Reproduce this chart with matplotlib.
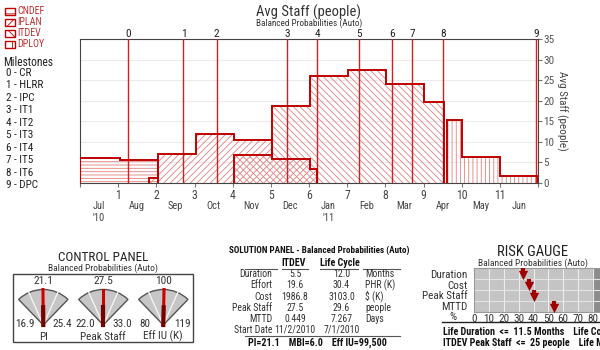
import matplotlib.pyplot as plt
from matplotlib import font_manager
from matplotlib.patches import Rectangle, Wedge
import numpy as np

# the reference uses a narrow sans; use one if installed, else shrink text
installed = {f.name for f in font_manager.fontManager.ttflist}
SCALE = 0.8
FONT = 'Liberation Sans'
for cand in ['Liberation Sans Narrow', 'Roboto Condensed', 'Open Sans Condensed']:
    if cand in installed:
        FONT, SCALE = cand, 1.0
        break
plt.rcParams['font.family'] = [FONT, 'DejaVu Sans']
plt.rcParams['hatch.linewidth'] = 0.6


def fs(size):
    return size * SCALE


# -------------------------------------------------------
# Staffing data (month edges, avg staff per step)
# -------------------------------------------------------
cndef_edges = [0, 1.05, 2.05]
cndef_staff = [6.0, 5.5]
iplan_edges = [1.8, 2.05, 3.03, 4.03, 5.02, 6.02, 6.21]
iplan_staff = [1.2, 7.0, 12.0, 10.4, 5.9, 3.5]
itdev_edges = [4.03, 5.02, 6.02, 7.01, 8.02, 9.0, 9.55]
itdev_staff = [6.7, 18.6, 25.9, 27.4, 24.1, 19.7]
dploy_edges = [9.61, 10.0, 11.0, 12.0]
dploy_staff = [15.3, 6.4, 1.8]

phase_names = ['CNDEF', 'IPLAN', 'ITDEV', 'DPLOY']

milestone_names = ['CR', 'HLRR', 'IPC', 'IT1', 'IT2', 'IT3', 'IT4', 'IT5', 'IT6', 'DPC']
milestone_months = [1.25, 2.71, 3.58, 5.43, 6.21, 7.32, 8.18, 8.70, 9.52, 11.94]

month_labels = ["Jul\n'10", 'Aug', 'Sep', 'Oct', 'Nov', 'Dec',
                "Jan\n'11", 'Feb', 'Mar', 'Apr', 'May', 'Jun']

# control panel gauges
gauge_names = ['PI', 'Peak Staff', 'Eff IU (K)']
gauge_low = [16.9, 22.0, 80]
gauge_high = [25.4, 33.0, 119]
gauge_value = [21.1, 27.5, 100]
gauge_fmt = ['{:.1f}', '{:.1f}', '{:.0f}']

# solution panel
sol_rows = ['Duration', 'Effort', 'Cost', 'Peak Staff', 'MTTD', 'Start Date']
sol_itdev = ['5.5', '19.6', '1986.8', '27.5', '0.449', '11/2/2010']
sol_life = ['12.0', '30.4', '3103.0', '29.6', '7.267', '7/1/2010']
sol_units = ['Months', 'PHR (K)', '$ (K)', 'people', 'Days', '']

# risk gauge
risk_names = ['Duration', 'Cost', 'Peak Staff', 'MTTD']
risk_pct = [33, 37, 40, 54]

LINE = '#c00000'
HATCH = '#e08080'
TXT = '#333333'

fig = plt.figure(figsize=(6, 3.5), dpi=100)

# -------------------------------------------------------
# Main staffing chart
# -------------------------------------------------------
ax = fig.add_axes([80 / 600, 1 - 183 / 350, 458 / 600, 144 / 350])

phases = [(cndef_edges, cndef_staff, '-----'),
          (iplan_edges, iplan_staff, '/////'),
          (itdev_edges, itdev_staff, '\\\\\\\\\\'),
          (dploy_edges, dploy_staff, '||||')]
legend_hatch = ['---', '///', '\\\\\\', '||']
for edges, staff, hatch in phases:
    ax.stairs(staff, edges, baseline=0, fill=True, facecolor='none',
              edgecolor=HATCH, hatch=hatch, linewidth=0, zorder=2)
for edges, staff, hatch in phases:
    ax.stairs(staff, edges, baseline=0, color=LINE, linewidth=1.4, zorder=4)

for i, m in enumerate(milestone_months):
    ax.axvline(m, color='#d02020', lw=1, zorder=3)
    ax.text(m, 1.0, str(i), transform=ax.get_xaxis_transform(),
            ha='center', va='bottom', fontsize=fs(8.2), color='#222')

ax.set_xlim(0, 12)
ax.set_ylim(0, 35)
ax.yaxis.tick_right()
ax.yaxis.set_label_position('right')
ax.set_yticks(range(0, 36, 5))
ax.set_ylabel('Avg Staff (people)', rotation=270, labelpad=9, fontsize=fs(8), color='#444')
ax.tick_params(axis='y', labelsize=fs(8), labelcolor='#555', length=3, color='#777', pad=1)
ax.grid(axis='y', color='#ececec', lw=0.8)
ax.set_axisbelow(True)

ax.set_xticks(range(13))
ax.set_xticklabels([''] + [str(i) for i in range(1, 12)] + [''])
ax.set_xticks(np.arange(12) + 0.5, minor=True)
ax.set_xticklabels(month_labels, minor=True)
ax.tick_params(axis='x', which='major', labelsize=fs(8.5), labelcolor='#444', length=3,
               color='#777', pad=1)
ax.tick_params(axis='x', which='minor', labelsize=fs(7.5), labelcolor='#444', length=0, pad=13)
for s in ax.spines.values():
    s.set_color('#444')

fig.text(309 / 600, 1 - 12.5 / 350, 'Avg Staff (people)', ha='center', va='center',
         fontsize=fs(10.5), color=TXT)
fig.text(309 / 600, 1 - 23.5 / 350, 'Balanced Probabilities (Auto)', ha='center',
         va='center', fontsize=fs(6.6), color=TXT)

# -------------------------------------------------------
# Overlay in pixel coordinates for the panels
# -------------------------------------------------------
ov = fig.add_axes([0, 0, 1, 1])
ov.set_xlim(0, 600)
ov.set_ylim(350, 0)
ov.axis('off')

# legend
for i, name in enumerate(phase_names):
    ov.add_patch(Rectangle((5, 7.5 + i * 11), 10, 7, facecolor='white',
                           edgecolor=LINE, hatch=legend_hatch[i], lw=1))
    ov.text(17.5, 11 + i * 11, name, fontsize=fs(7.2), color='#c03030', va='center')

# milestones list
ov.text(3, 62.5, 'Milestones', fontsize=fs(8.3), va='center', color='#222')
for i, name in enumerate(milestone_names):
    ov.text(6, 72.7 + i * 12.5, f'{i} - {name}', fontsize=fs(8), va='center', color='#222')

# control panel
ov.text(103, 257.5, 'CONTROL PANEL', ha='center', va='center', fontsize=fs(9.5), color='#222')
ov.text(103, 268.5, 'Balanced Probabilities (Auto)', ha='center', va='center',
        fontsize=fs(6.8), color=TXT)
ov.add_patch(Rectangle((13.3, 274), 180, 67.7, fill=False, edgecolor='#444', lw=1))


def pt(cx, cy, r, ang):
    a = np.radians(ang)
    return cx + r * np.cos(a), cy - r * np.sin(a)


R = 35.5
for k, name in enumerate(gauge_names):
    cx, cy = 43.3 + k * 60, 325
    ov.add_patch(Wedge((cx, cy), R, -134, -46, facecolor='#c6c6c6',
                       edgecolor='#555', lw=1))
    for a in (114, 66):
        x1, y1 = pt(cx, cy, R, a)
        ov.plot([cx, x1], [cy, y1], color='#f4f4f4', lw=1)
    frac = (gauge_value[k] - gauge_low[k]) / (gauge_high[k] - gauge_low[k])
    ang = 135 - 90 * frac
    x1, y1 = pt(cx, cy, R, ang)
    ov.plot([cx, x1], [cy, y1], color='#d00000', lw=2.2)
    x2, y2 = pt(cx, cy, R * 0.5, ang)
    ov.plot([cx, x2], [cy, y2], color='#7a0000', lw=3)
    ov.text(cx, 281, gauge_fmt[k].format(gauge_value[k]), ha='center', va='center',
            fontsize=fs(8.2), color=TXT)
    ov.text(cx - 18, 324, gauge_fmt[k].format(gauge_low[k]), ha='center',
            va='center', fontsize=fs(8), color=TXT)
    ov.text(cx + 19, 324, gauge_fmt[k].format(gauge_high[k]), ha='center',
            va='center', fontsize=fs(8), color=TXT)
    ov.text(cx, 336.5, name, ha='center', va='center', fontsize=fs(8), color=TXT)

# solution panel
ov.text(319, 250.5, 'SOLUTION PANEL - Balanced Probabilities (Auto)', ha='center',
        va='center', fontsize=fs(6.6), fontweight='bold', color='#111')
ov.text(294, 263, 'ITDEV', ha='center', va='center', fontsize=fs(7.2),
        fontweight='bold', color='#111')
ov.text(340, 263, 'Life Cycle', ha='center', va='center', fontsize=fs(7.2),
        fontweight='bold', color='#111')
for x0, x1 in [(245, 276.5), (281.5, 308), (320, 358), (363, 400)]:
    ov.plot([x0, x1], [268.5, 268.5], color='#555', lw=0.8)
for i, row in enumerate(sol_rows):
    y = 274.3 + i * 11.1
    ov.text(272, y, row, ha='right', va='center', fontsize=fs(7), color=TXT)
    ov.text(295, y, sol_itdev[i], ha='center', va='center', fontsize=fs(7), color=TXT)
    ov.text(341.5, y, sol_life[i], ha='center', va='center', fontsize=fs(7), color=TXT)
    ov.text(365, y, sol_units[i], ha='left', va='center', fontsize=fs(7), color=TXT)
ov.plot([245, 400], [336, 336], color='#555', lw=0.8)
ov.text(317.5, 342.5, 'PI=21.1    MBI=6.0    Eff IU=99,500', ha='center',
        va='center', fontsize=fs(7.2), fontweight='bold', color='#111')

# risk gauge
ov.text(533, 251.5, 'RISK GAUGE', ha='center', va='center', fontsize=fs(10.5), color='#222')
ov.text(533, 263, 'Balanced Probabilities (Auto)', ha='center', va='center',
        fontsize=fs(6.8), color=TXT)

rg = fig.add_axes([474.3 / 600, 1 - 311.7 / 350, 148 / 600, 43.4 / 350])
rg.set_facecolor('#c4c4c4')
rg.set_xlim(0, 100)
rg.set_ylim(-0.5, 3.5)
rg.axvspan(80, 100, color='#8c8c8c', zorder=0)
rg.set_xticks(range(0, 90, 10))
rg.grid(axis='x', color='#ececec', lw=0.8)
for yb in (0.5, 1.5, 2.5):
    rg.axhline(yb, color='#e4e4e4', lw=0.8, zorder=1)
rg.set_axisbelow(True)
rg.set_yticks([3, 2, 1, 0])
rg.set_yticklabels(risk_names)
rg.tick_params(axis='y', length=0, pad=5, labelsize=fs(8), labelcolor=TXT)
rg.tick_params(axis='x', length=0, pad=2, labelsize=fs(8), labelcolor=TXT)
for s in rg.spines.values():
    s.set_color('#999')
for v, y in zip(risk_pct, [3, 2, 1, 0]):
    rg.plot([v, v], [y + 0.5, y - 0.05], color='#a00000', lw=3, solid_capstyle='butt', zorder=5)
    rg.scatter([v], [y - 0.15], marker='v', s=45, color='#a00000', linewidths=0, zorder=5)
ov.text(453, 316.5, '%', ha='center', va='center', fontsize=fs(8), color=TXT)
ov.plot([441.7, 600], [322.3, 322.3], color='#222', lw=1)
ov.text(443, 331.5, 'Life Duration  <=  11.5 Months    Life Cost  <=  2700 $ (K)',
        ha='left', va='center', fontsize=fs(7.2), fontweight='bold', color='#111')
ov.text(443, 343.3, 'ITDEV Peak Staff  <=  25 people    Life MTTD  >=  7 Days',
        ha='left', va='center', fontsize=fs(7.2), fontweight='bold', color='#111')

fig.savefig('out.png', dpi=100)
